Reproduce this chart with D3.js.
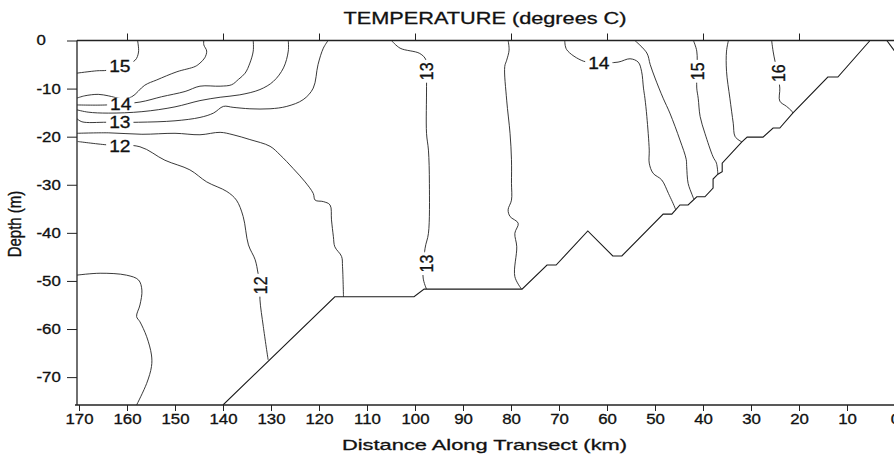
<!DOCTYPE html>
<html>
<head>
<meta charset="utf-8">
<script src="https://cdn.jsdelivr.net/npm/d3@7"></script>
<style>
  body { margin: 0; background: #fff; }
  svg { display: block; font-family: "Liberation Sans", Arial, sans-serif; }
  svg text { stroke: #111; stroke-width: 0.3px; }
</style>
</head>
<body>
<script>
// axis ticks
var xTicks = [170, 160, 150, 140, 130, 120, 110, 100, 90, 80, 70, 60, 50, 40, 30, 20, 10, 0];
var xTopTicks = [160, 140, 120, 100, 80, 60, 40, 20];
var yTicks = [0, -10, -20, -30, -40, -50, -60, -70];

// seabed profile [km, depth m]
var seabed = [[140.0,-75.8],[116.7,-53.3],[100.2,-53.3],[98.1,-51.7],[77.7,-51.7],[72.5,-46.7],[70.6,-46.7],
  [64.0,-39.6],[58.8,-44.8],[56.9,-44.8],[48.3,-36.1],[46.5,-36.1],[44.8,-34.2],[43.1,-34.2],[41.3,-32.5],
  [39.6,-32.5],[37.9,-30.7],[37.9,-28.8],[36.9,-27.8],[36.0,-27.3],[36.0,-25.5],[31.9,-21.1],[30.8,-20.1],
  [27.5,-20.1],[25.4,-18.2],[24.0,-18.2],[21.3,-15.1],[14.0,-7.6],[11.9,-7.6],[5.2,0]];
var seabedEast = [[1.7,0],[0,-2.3]];

// isotherms [km, depth m]
var t15West = [[170.5,-6.8],[166.3,-6.3],[164.2,-6.2],[161.0,-5.3],[158.3,-4.1],[157.6,-2.4],[157.8,0]];
var t14Hump = [[170.5,-12.0],[168.8,-11.5],[166.0,-11.2],[163.9,-11.5],[161.0,-12.1],[159.0,-11.7],[156.3,-9.3],
  [153.8,-8.2],[149.6,-6.5],[145.8,-5.4],[144.8,-4.7],[143.8,-3.6],[143.4,-2.2],[144.0,-0.9],[144.0,0]];
var t14West = [[170.5,-13.4],[164.2,-13.4],[157.3,-12.8],[152.8,-11.7],[147.9,-10.6],[144.8,-9.5],[140.6,-9.5],
  [138.2,-9.2],[136.8,-8.1],[135.4,-6.8],[134.4,-4.7],[133.7,-2.2],[133.7,0]];
var t135West = [[170.5,-14.4],[168.1,-14.9],[163.9,-15.1],[156.9,-14.8],[150.0,-13.8],[144.8,-12.5],[140.6,-11.8],
  [136.5,-11.3],[132.3,-10.2],[129.5,-8.5],[127.4,-5.7],[126.4,-2.2],[126.4,0]];
var t13West = [[170.5,-16.2],[169.4,-16.9],[164.2,-17.0],[157.6,-17.0],[150.0,-16.7],[144.8,-16.0],[142.0,-15.1],
  [139.9,-13.7],[137.9,-13.9],[134.4,-14.2],[130.2,-14.2],[126.7,-13.7],[123.3,-12.3],[121.2,-9.9],[120.2,-5.0],
  [119.1,-1.6],[118.1,0]];
var t125West = [[170.5,-19.3],[163.9,-19.2],[156.9,-19.5],[150.0,-19.3],[144.8,-19.6],[140.6,-19.1],[137.9,-19.6],
  [134.4,-20.6],[130.2,-22.0],[128.1,-23.8],[125.4,-26.6],[122.9,-29.4],[121.2,-31.8],[120.8,-33.2],[119.1,-33.5],
  [117.7,-34.2],[117.4,-37.3],[117.0,-40.8],[116.7,-42.9],[115.3,-44.9],[115.1,-47.0],[114.9,-53.3]];
var t12West = [[170.3,-21.0],[164.2,-21.7],[157.3,-22.1],[152.1,-24.9],[146.9,-26.9],[143.4,-29.4],[139.2,-31.4],
  [137.2,-33.2],[135.8,-36.6],[134.7,-42.5],[133.3,-45.6],[132.7,-48.4],[132.3,-50.8],[132.3,-53.9],[131.6,-59.5],
  [130.6,-66.4]];
var t12Deep = [[170.5,-48.8],[165.6,-48.4],[160.1,-48.8],[157.6,-49.8],[156.9,-51.9],[157.3,-55.0],[158.0,-57.4],
  [157.3,-58.5],[155.9,-61.6],[154.9,-65.4],[154.9,-67.8],[155.9,-71.3],[158.0,-75.8]];
var t13Mid = [[104.9,0],[103.1,-1.6],[99.0,-2.7],[97.7,-4.1],[97.6,-9.6],[97.6,-19.3],[97.2,-22.8],[97.0,-29.7],
  [97.2,-40.1],[97.9,-43.2],[98.3,-49.4],[97.6,-51.7]];
var t135Mid = [[80.6,0],[80.4,-2.0],[80.9,-4.1],[81.3,-5.4],[80.9,-12.4],[80.2,-19.3],[79.9,-24.8],[79.9,-29.7],
  [79.9,-33.2],[80.6,-35.2],[80.2,-36.6],[78.5,-38.0],[79.2,-40.1],[78.8,-42.9],[79.2,-49.1],[77.8,-51.7]];
var t14East = [[68.8,0],[68.4,-1.9],[64.9,-4.3],[61.7,-4.6],[57.7,-4.5],[55.2,-3.8],[53.5,-4.5],[52.8,-6.4],
  [52.4,-9.9],[52.1,-12.0],[51.7,-15.8],[51.2,-22.8],[51.2,-25.5],[50.4,-27.6],[48.6,-29.0],[47.2,-31.8],
  [45.8,-34.9],[45.7,-35.3]];
var t145East = [[54.2,0],[51.7,-2.6],[51.0,-5.0],[50.0,-7.8],[48.3,-12.0],[46.9,-15.1],[44.8,-20.7],[43.5,-24.7],
  [43.4,-26.2],[43.1,-29.7],[42.3,-32.0],[41.9,-33.0]];
var t15East = [[42.0,0],[41.3,-2.2],[41.25,-6.4],[41.3,-9.9],[41.0,-12.0],[40.6,-15.8],[39.6,-19.3],[37.9,-24.2],
  [37.2,-25.5],[36.9,-27.8]];
var t155East = [[34.7,0],[35.1,-2.2],[35.1,-6.4],[34.4,-12.0],[33.7,-17.2],[33.3,-20.0],[31.9,-21.1]];
var t16East = [[25.7,0],[25.4,-2.2],[25.0,-4.3],[24.4,-6.8],[24.0,-9.9],[24.0,-12.6],[22.6,-13.7],[21.5,-14.7],
  [21.3,-15.1]];

// contour labels
var labelText  = ["15", "14", "13", "12", "12", "13", "13", "14", "15", "16"];
var labelKm    = [161.5, 161.3, 161.5, 161.5, 132.3, 97.6, 97.7, 61.7, 41.3, 24.4];
var labelDepth = [-5.3, -13.2, -17.0, -21.9, -50.9, -6.4, -46.4, -4.7, -6.4, -6.8];
var labelAngle = [0, 0, 0, 0, -90, -90, -90, 0, -90, -90];

function init() {
    var width = 894;
    var height = 454;
    var left = 77, right = 894, top = 40.5, bottom = 405;
    var stretch = 1.2; // the scan is wider than it is tall

    var svg = d3.select("body").append("svg")
        .attr("width", width)
        .attr("height", height);

    var x = d3.scaleLinear().domain([170, 0]).range([79, 895]);
    var y = d3.scaleLinear().domain([0, -75.8]).range([top, bottom]);

    svg.append("defs").append("clipPath").attr("id", "plot")
        .append("rect")
        .attr("x", left).attr("y", top)
        .attr("width", right - left).attr("height", bottom - top);

    // widen text like the original
    function widen(sel, k) {
        sel.each(function() {
            var w = this.getComputedTextLength();
            this.setAttribute("textLength", w * k);
            this.setAttribute("lengthAdjust", "spacingAndGlyphs");
        });
    }

    var line = d3.line()
        .x(function(d) { return x(d[0]); })
        .y(function(d) { return y(d[1]); });
    var smooth = d3.line()
        .x(function(d) { return x(d[0]); })
        .y(function(d) { return y(d[1]); })
        .curve(d3.curveCatmullRom.alpha(0.5));

    var plot = svg.append("g").attr("clip-path", "url(#plot)");

    var isotherms = [t15West, t14Hump, t14West, t135West, t13West, t125West, t12West, t12Deep,
        t13Mid, t135Mid, t14East, t145East, t15East, t155East, t16East];

    plot.selectAll("path.iso")
        .data(isotherms)
        .enter().append("path")
        .attr("class", "iso")
        .attr("d", smooth)
        .attr("fill", "none")
        .attr("stroke", "#222")
        .attr("stroke-width", 0.9);

    plot.selectAll("path.bed")
        .data([seabed, seabedEast])
        .enter().append("path")
        .attr("class", "bed")
        .attr("d", line)
        .attr("fill", "none")
        .attr("stroke", "#1a1a1a")
        .attr("stroke-width", 1.1);

    // contour labels with a white gap
    var fs = 16;
    var labels = d3.range(labelText.length).map(function(i) {
        return { text: labelText[i], km: labelKm[i], depth: labelDepth[i], angle: labelAngle[i] };
    });
    svg.selectAll("g.lab")
        .data(labels)
        .enter().append("g")
        .attr("class", "lab")
        .attr("transform", function(d) {
            return "translate(" + x(d.km) + "," + y(d.depth) + ") scale(" + stretch + ",1) rotate(" + d.angle + ")";
        })
        .each(function(d) {
            var g = d3.select(this);
            var t = g.append("text")
                .attr("text-anchor", "middle")
                .attr("y", fs * 0.36)
                .attr("font-size", fs)
                .attr("fill", "#111")
                .text(d.text);
            var w = t.node().getComputedTextLength();
            g.insert("rect", "text")
                .attr("x", -w / 2 - 2.5)
                .attr("y", -fs * 0.36 - 0.5)
                .attr("width", w + 5)
                .attr("height", fs * 0.72 + 1)
                .attr("fill", "#fff");
        });

    // bottom axis
    var xAxis = svg.append("g")
        .attr("transform", "translate(0," + bottom + ")")
        .call(d3.axisBottom(x).tickValues(xTicks).tickSize(6).tickPadding(3).tickSizeOuter(0)
            .tickFormat(function(d) { return String(d); }));
    xAxis.select(".domain").remove();
    xAxis.selectAll("line").attr("stroke", "#222").attr("stroke-width", 1);
    xAxis.selectAll("text")
        .attr("font-family", "Liberation Sans, Arial, sans-serif")
        .attr("font-size", 14)
        .attr("fill", "#111")
        .call(widen, stretch);

    // top ticks only
    var topAxis = svg.append("g")
        .attr("transform", "translate(0," + top + ")")
        .call(d3.axisTop(x).tickValues(xTopTicks).tickSize(7).tickSizeOuter(0).tickFormat(""));
    topAxis.select(".domain").remove();
    topAxis.selectAll("line").attr("stroke", "#222").attr("stroke-width", 1);

    // left axis
    var yAxis = svg.append("g")
        .attr("transform", "translate(" + left + ",0)")
        .call(d3.axisLeft(y).tickValues(yTicks).tickSize(10).tickSizeOuter(0)
            .tickFormat(function(d) { return String(d); }));
    yAxis.select(".domain").remove();
    yAxis.selectAll("line").attr("stroke", "#222").attr("stroke-width", 1);
    yAxis.selectAll("text")
        .attr("x", 36.5 - left)
        .attr("text-anchor", "start")
        .attr("font-family", "Liberation Sans, Arial, sans-serif")
        .attr("font-size", 14)
        .attr("fill", "#111")
        .call(widen, stretch);

    // frame
    var frame = [[[left, top], [right, top]], [[left, top], [left, bottom]], [[75, bottom], [right, bottom]]];
    svg.selectAll("line.frame")
        .data(frame)
        .enter().append("line")
        .attr("class", "frame")
        .attr("x1", function(d) { return d[0][0]; })
        .attr("y1", function(d) { return d[0][1]; })
        .attr("x2", function(d) { return d[1][0]; })
        .attr("y2", function(d) { return d[1][1]; })
        .attr("stroke", "#222")
        .attr("stroke-width", 1.3);

    // titles
    svg.append("text")
        .attr("x", 485).attr("y", 23.5)
        .attr("text-anchor", "middle")
        .attr("font-size", 16.5)
        .attr("fill", "#111")
        .attr("textLength", 283)
        .attr("lengthAdjust", "spacingAndGlyphs")
        .text("TEMPERATURE (degrees C)");

    svg.append("text")
        .attr("x", 484.5).attr("y", 449.5)
        .attr("text-anchor", "middle")
        .attr("font-size", 15)
        .attr("fill", "#111")
        .attr("textLength", 285)
        .attr("lengthAdjust", "spacingAndGlyphs")
        .text("Distance Along Transect (km)");

    svg.append("text")
        .attr("transform", "translate(21,224) scale(" + stretch + ",1) rotate(-90)")
        .attr("text-anchor", "middle")
        .attr("font-size", 15)
        .attr("fill", "#111")
        .text("Depth (m)");
}

window.onload = init;
</script>
</body>
</html>
